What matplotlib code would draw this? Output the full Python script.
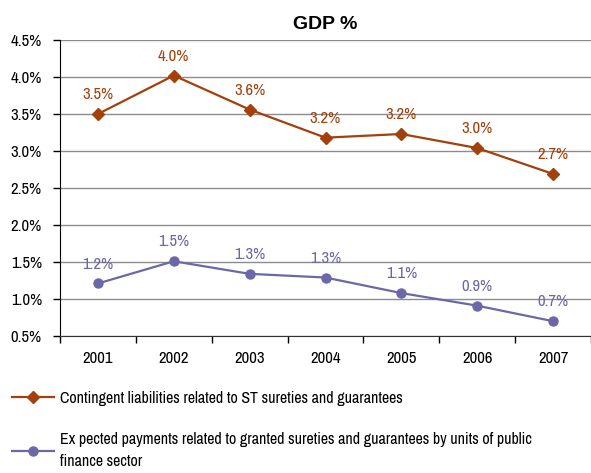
import numpy as np
import matplotlib
matplotlib.use("Agg")
import matplotlib.pyplot as plt
from matplotlib.ticker import FixedLocator, FuncFormatter

plt.rcParams['font.family'] = ['Archivo Narrow', 'Liberation Sans', 'DejaVu Sans']

# data
years      =  ['2001', '2002', '2003', '2004', '2005', '2006', '2007']
contingent =  [3.50, 4.02, 3.56, 3.18, 3.23, 3.04, 2.69]
expected   =  [1.21, 1.51, 1.34, 1.29, 1.08, 0.91, 0.70]
name_cont  =  'Contingent liabilities related to ST sureties and guarantees'
name_exp   =  'Ex pected payments related to granted sureties and guarantees by units of public\nfinance sector'

c_red  =  '#A3400B'
c_blue =  '#6C68A8'

fig = plt.figure(figsize=(5.91, 4.73), dpi=100)
ax  = fig.add_axes([60/591, 1-336/473, 531/591, 296/473])

x = np.arange(len(years))

l1, = ax.plot(x, contingent, color=c_red, lw=1.6, marker='D', markersize=6, label=name_cont)
l2, = ax.plot(x, expected, color=c_blue, lw=1.6, marker='o', markersize=6.5, label=name_exp)

# value labels above points
for xi, v in zip(x, contingent):
    ax.annotate('%.1f%%' % v, (xi, v), xytext=(0, 14), textcoords='offset points',
                ha='center', va='center', color=c_red, fontsize=12)
for xi, v in zip(x, expected):
    ax.annotate('%.1f%%' % v, (xi, v), xytext=(0, 14), textcoords='offset points',
                ha='center', va='center', color=c_blue, fontsize=12)

# axis range
ax.set_ylim(0.5, 4.5)
ax.set_xlim(-0.5, len(years) - 0.5)

ax.yaxis.set_major_locator(FixedLocator(np.arange(0.5, 4.51, 0.5)))
ax.yaxis.set_major_formatter(FuncFormatter(lambda v, p: '%.1f%%' % v))
ax.yaxis.grid(True, color='#8c8c8c', lw=1)
ax.set_axisbelow(True)

# ticks between categories, labels at category centres
ax.xaxis.set_major_locator(FixedLocator(np.arange(-0.5, len(years), 1.0)))
ax.xaxis.set_major_formatter(FuncFormatter(lambda v, p: ''))
ax.xaxis.set_minor_locator(FixedLocator(x))
ax.set_xticklabels(years, minor=True)
ax.tick_params(axis='x', which='major', direction='out', length=5, width=1, color='k')
ax.tick_params(axis='x', which='minor', length=0, pad=11, labelsize=12)
ax.tick_params(axis='y', direction='out', length=5, width=1, labelsize=12, pad=8)

for s in ['top', 'right']:
    ax.spines[s].set_visible(False)
ax.spines['left'].set_color('k')
ax.spines['bottom'].set_color('#333333')

ax.set_title('GDP %', fontsize=14, fontweight='bold', pad=8,
             family=['Liberation Sans', 'DejaVu Sans'])

leg = fig.legend(handles=[l1, l2], loc='upper left', bbox_to_anchor=(12/591, 1-391/473),
                 frameon=False, fontsize=11.5, handlelength=2.6, handletextpad=0.4,
                 labelspacing=1.6, borderaxespad=0, borderpad=0)
for t in leg.get_texts():
    t.set_linespacing(1.65)

plt.savefig('out.png', dpi=100)
